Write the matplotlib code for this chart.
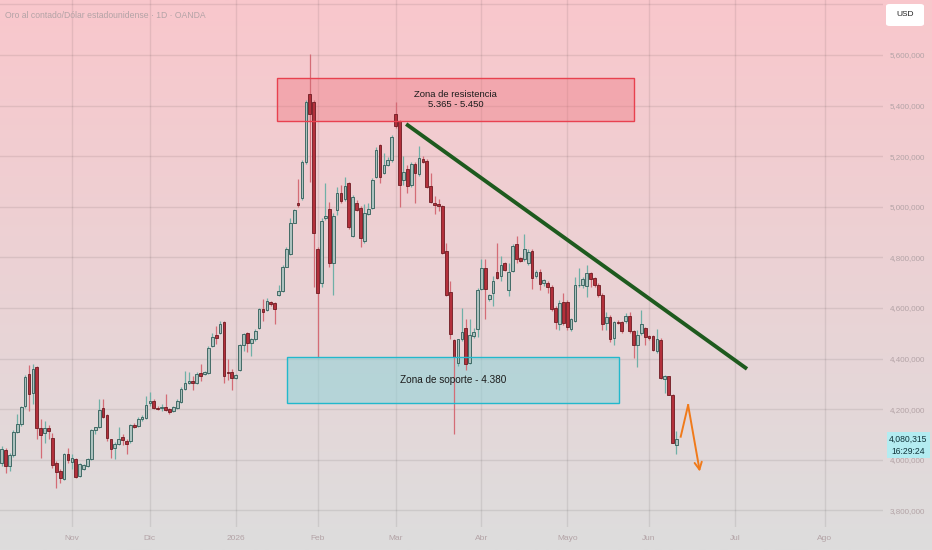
import numpy as np
import pandas as pd
import matplotlib
matplotlib.use("Agg")
import matplotlib.pyplot as plt
from matplotlib.patches import Rectangle, FancyBboxPatch

# Daily OHLC, first bar = 8 Oct 2025
opens = [3986, 4037, 3975, 4017, 4109, 4142, 4212, 4337, 4264, 4367, 4126, 4107, 4126, 4084, 3988, 3955,
         3922, 4021, 3992, 4004, 3935, 3964, 3975, 4004, 4117, 4129, 4203, 4175, 4080, 4047, 4064, 4089,
         4074, 4074, 4136, 4133, 4162, 4163, 4226, 4233, 4205, 4203, 4208, 4200, 4193, 4206, 4229, 4281,
         4302, 4311, 4303, 4342, 4338, 4342, 4450, 4493, 4500, 4545, 4347, 4345, 4325, 4355, 4454, 4500,
         4463, 4476, 4522, 4597, 4591, 4624, 4618, 4650, 4667, 4763, 4813, 4937, 5013, 5033, 5178, 5447,
         5415, 4832, 4700, 4955, 4993, 4776, 4987, 5055, 5029, 5092, 4884, 5016, 4997, 4866, 4971, 4997,
         5116, 5243, 5132, 5164, 5184, 5366, 5339, 5105, 5151, 5086, 5171, 5128, 5189, 5180, 5084, 5016,
         5010, 5003, 4825, 4663, 4474, 4384, 4476, 4522, 4384, 4490, 4516, 4674, 4759, 4637, 4660, 4742,
         4726, 4776, 4671, 4746, 4851, 4799, 4795, 4776, 4825, 4726, 4742, 4697, 4700, 4684, 4601, 4537,
         4625, 4625, 4516, 4550, 4689, 4691, 4687, 4739, 4717, 4691, 4651, 4542, 4566, 4480, 4546, 4546,
         4550, 4568, 4507, 4454, 4500, 4520, 4490, 4490, 4428, 4474, 4318, 4329, 4257, 4060]
highs = [4055, 4047, 4028, 4117, 4179, 4214, 4333, 4376, 4380, 4372, 4159, 4153, 4139, 4107, 3995, 3964,
         4028, 4047, 4021, 4008, 3988, 3985, 4008, 4122, 4130, 4241, 4241, 4179, 4083, 4070, 4129, 4103,
         4080, 4140, 4145, 4170, 4175, 4253, 4266, 4239, 4212, 4220, 4259, 4206, 4214, 4240, 4289, 4351,
         4347, 4332, 4347, 4378, 4350, 4450, 4500, 4529, 4549, 4549, 4397, 4358, 4338, 4457, 4500, 4503,
         4483, 4516, 4601, 4634, 4641, 4628, 4624, 4690, 4768, 4840, 4954, 4992, 5110, 5184, 5421, 5603,
         5421, 4842, 4954, 5092, 5020, 4974, 5079, 5085, 5118, 5099, 5046, 5026, 5003, 5010, 5013, 5112,
         5237, 5247, 5211, 5197, 5283, 5415, 5342, 5200, 5164, 5178, 5178, 5239, 5200, 5187, 5134, 5042,
         5029, 5005, 4858, 4707, 4476, 4479, 4601, 4555, 4555, 4520, 4680, 4792, 4792, 4654, 4726, 4858,
         4805, 4782, 4779, 4851, 4884, 4800, 4891, 4832, 4832, 4750, 4753, 4713, 4707, 4689, 4608, 4632,
         4660, 4632, 4562, 4724, 4757, 4724, 4770, 4743, 4724, 4697, 4658, 4585, 4572, 4550, 4552, 4550,
         4579, 4582, 4513, 4513, 4592, 4526, 4493, 4493, 4516, 4480, 4335, 4332, 4261, 4112]
lows = [3975, 3949, 3955, 4012, 4104, 4135, 4205, 4192, 4222, 4080, 4008, 4067, 4080, 3968, 3889, 3909,
        3920, 3988, 3962, 3929, 3933, 3958, 3970, 3999, 4100, 4126, 4166, 4074, 4008, 4001, 4060, 4060,
        4021, 4067, 4125, 4128, 4155, 4160, 4213, 4200, 4195, 4193, 4193, 4180, 4187, 4200, 4224, 4276,
        4299, 4276, 4299, 4312, 4334, 4338, 4447, 4457, 4496, 4303, 4314, 4276, 4318, 4351, 4430, 4424,
        4410, 4470, 4518, 4549, 4588, 4608, 4535, 4647, 4663, 4760, 4809, 4934, 5000, 5026, 5171, 5097,
        4684, 4408, 4681, 4947, 4760, 4651, 4967, 5013, 5024, 4914, 4879, 4984, 4842, 4858, 4967, 4993,
        5112, 5092, 5129, 5161, 5178, 5313, 5000, 5086, 5053, 5079, 5013, 5121, 5174, 5075, 5013, 4970,
        4983, 4812, 4647, 4476, 4101, 4371, 4470, 4355, 4377, 4480, 4487, 4671, 4555, 4628, 4608, 4713,
        4707, 4746, 4647, 4742, 4779, 4780, 4785, 4770, 4674, 4720, 4671, 4687, 4660, 4588, 4516, 4513,
        4533, 4513, 4507, 4546, 4684, 4678, 4645, 4684, 4684, 4645, 4513, 4513, 4467, 4454, 4535, 4500,
        4542, 4500, 4401, 4368, 4493, 4454, 4474, 4428, 4421, 4318, 4263, 4254, 4065, 4024]
closes = [4043, 3975, 4017, 4109, 4142, 4208, 4328, 4258, 4357, 4126, 4097, 4126, 4113, 3978, 3951, 3929,
          4024, 3999, 4005, 3933, 3982, 3979, 4001, 4117, 4128, 4195, 4168, 4084, 4043, 4064, 4080, 4076,
          4063, 4136, 4130, 4162, 4168, 4216, 4233, 4203, 4200, 4209, 4197, 4189, 4210, 4233, 4281, 4303,
          4312, 4302, 4338, 4331, 4345, 4443, 4485, 4480, 4535, 4331, 4341, 4322, 4334, 4453, 4496, 4460,
          4479, 4509, 4597, 4584, 4628, 4614, 4595, 4667, 4763, 4834, 4937, 4987, 5007, 5178, 5415, 5368,
          4897, 4658, 4945, 4963, 4779, 4963, 5055, 5024, 5082, 4921, 5039, 4989, 4875, 4974, 4993, 5105,
          5226, 5118, 5164, 5184, 5276, 5318, 5086, 5138, 5082, 5171, 5134, 5193, 5176, 5079, 5018, 5008,
          5003, 4816, 4650, 4496, 4408, 4476, 4505, 4378, 4492, 4505, 4671, 4759, 4674, 4650, 4707, 4720,
          4768, 4750, 4742, 4845, 4792, 4785, 4832, 4821, 4720, 4742, 4693, 4710, 4684, 4597, 4545, 4621,
          4539, 4524, 4555, 4691, 4691, 4713, 4737, 4713, 4691, 4651, 4537, 4566, 4476, 4546, 4542, 4507,
          4568, 4507, 4454, 4493, 4537, 4484, 4480, 4432, 4476, 4322, 4329, 4257, 4068, 4080]

month_labels = ["Nov", "Dic", "2026", "Feb", "Mar", "Abr", "Mayo", "Jun", "Jul", "Ago"]
price_ticks = [3800, 4000, 4200, 4400, 4600, 4800, 5000, 5200, 5400, 5600, 5800]

# drawn objects (bar index, price)
res_zone = (70.6, 162.1, 5339, 5509)
sup_zone = (73.2, 158.3, 4224, 4406)
trend_line = ([103.7, 191.1], [5327, 4359])
arrow_path = ([174.1, 176.0, 179.0], [4091, 4216, 3953])
last_price = 4080.315

# trading days, no bars on 25 Dec / 1 Jan
dates = pd.bdate_range("2025-10-08", "2026-08-31")
dates = dates[~dates.isin(pd.to_datetime(["2025-12-25", "2026-01-01"]))]
pos = pd.Series(np.arange(len(dates)), index=dates)
firsts = pos.groupby([dates.year, dates.month]).first()
month_pos = list(firsts.values[1:1 + len(month_labels)])

o = np.array(opens)
h = np.array(highs)
l = np.array(lows)
c = np.array(closes)
x = np.arange(len(o))
up = c >= o

W, H = 932, 550
fig = plt.figure(figsize=(W / 100, H / 100), dpi=100)

# background gradient pink -> gray
bg = fig.add_axes([0, 0, 1, 1], zorder=-5)
top = np.array([249, 199, 204]) / 255
bot = np.array([221, 221, 221]) / 255
t = np.linspace(0, 1, 256)[:, None]
grad = top[None, :] * (1 - t) + bot[None, :] * t
bg.imshow(grad[:, None, :], aspect="auto", extent=[0, 1, 0, 1])
bg.axis("off")

font = ["Liberation Sans", "DejaVu Sans"]
faint = "#b3a3a6"

ax = fig.add_axes([0, 1 - 527 / H, 883 / W, 527 / H])
ax.patch.set_alpha(0)
ax.set_xlim(-0.44, 225.97)
ax.set_ylim(3734, 5817.4)
for s in ax.spines.values():
    s.set_visible(False)

ax.set_yticks(price_ticks)
ylabels = [f"{v:,.3f}".replace(".", ",") for v in price_ticks]
ylabels[-1] = ""  # hidden under the currency box
ax.set_yticklabels(ylabels, family=font, fontsize=5.8, color=faint)
ax.yaxis.tick_right()
ax.tick_params(axis="y", length=0, pad=30.2)
for lab in ax.get_yticklabels():
    lab.set_horizontalalignment("right")
ax.set_xticks(month_pos)
ax.set_xticklabels(month_labels, family=font, fontsize=6, color=faint)
ax.tick_params(axis="x", length=0, pad=6)
ax.grid(True, color="black", alpha=0.08, lw=1)
ax.set_axisbelow(True)

# candles
red_body, red_edge, red_wick = "#b3303b", "#6e1b22", "#d46c76"
grn_body, grn_edge, grn_wick = "#aec2bf", "#2e5c57", "#6fb0a7"
ax.vlines(x[up], l[up], h[up], color=grn_wick, lw=0.9, zorder=2)
ax.vlines(x[~up], l[~up], h[~up], color=red_wick, lw=0.9, zorder=2)
body_lo = np.minimum(o, c)
body_h = np.maximum(np.abs(c - o), 2.5)
ax.bar(x[up], body_h[up], bottom=body_lo[up], width=0.7, color=grn_body, edgecolor=grn_edge, lw=0.6, zorder=3)
ax.bar(x[~up], body_h[~up], bottom=body_lo[~up], width=0.7, color=red_body, edgecolor=red_edge, lw=0.6, zorder=3)

# zones
x0, x1, y0, y1 = res_zone
ax.add_patch(Rectangle((x0, y0), x1 - x0, y1 - y0, facecolor="#f06873", alpha=0.35, edgecolor="none", zorder=1))
ax.add_patch(Rectangle((x0, y0), x1 - x0, y1 - y0, fill=False, edgecolor="#e8414f", lw=1, zorder=4))
ax.text((x0 + x1) / 2, (y0 + y1) / 2, "Zona de resistencia\n5.365 - 5.450", ha="center", va="center",
        family=font, fontsize=6.8, color="#1c1c1c", linespacing=1.2, zorder=5)

x0, x1, y0, y1 = sup_zone
ax.add_patch(Rectangle((x0, y0), x1 - x0, y1 - y0, facecolor="#8fd3d8", alpha=0.55, edgecolor="none", zorder=1))
ax.add_patch(Rectangle((x0, y0), x1 - x0, y1 - y0, fill=False, edgecolor="#22b8cc", lw=1, zorder=4))
ax.text((x0 + x1) / 2, (y0 + y1) / 2, "Zona de soporte - 4.380", ha="center", va="center",
        family=font, fontsize=7.2, color="#1c1c1c", zorder=5)

# trend line and projected move
ax.plot(trend_line[0], trend_line[1], color="#1e5a1e", lw=2.8, solid_capstyle="butt", zorder=6)
ax.plot(arrow_path[0][:2], arrow_path[1][:2], color="#f07a1a", lw=1.4, zorder=6)
ax.annotate("", xy=(arrow_path[0][2], arrow_path[1][2]), xytext=(arrow_path[0][1], arrow_path[1][1]),
            arrowprops=dict(arrowstyle="->", color="#f07a1a", lw=1.4, mutation_scale=13, shrinkA=0, shrinkB=0),
            zorder=6)

# title
fig.text(5 / W, 1 - 15 / H, "Oro al contado/Dólar estadounidense · 1D · OANDA", family=font,
         fontsize=6.2, color=faint, va="center", ha="left")

# currency box
fig.patches.append(FancyBboxPatch((886 / W, 1 - 26 / H), 38 / W, 22 / H, boxstyle="round,pad=0,rounding_size=0.004",
                                  transform=fig.transFigure, facecolor="white", edgecolor="none", zorder=10))
fig.text(905 / W, 1 - 15 / H, "USD", family=font, fontsize=6, color="#222222", ha="center", va="center", zorder=11)

# last price tag
ly = ax.transData.transform((0, last_price))[1] / H
fig.patches.append(Rectangle((887 / W, ly - 18.5 / H), 43 / W, 26 / H, transform=fig.transFigure,
                             facecolor="#b3ecf1", edgecolor="none", zorder=10))
fig.text(908 / W, ly, f"{last_price:,.3f}".replace(".", ","), family=font, fontsize=6.2, color="#10343a",
         ha="center", va="center", zorder=11)
fig.text(908 / W, ly - 12 / H, "16:29:24", family=font, fontsize=6.2, color="#10343a",
         ha="center", va="center", zorder=11)

fig.savefig("out.png", dpi=100)
